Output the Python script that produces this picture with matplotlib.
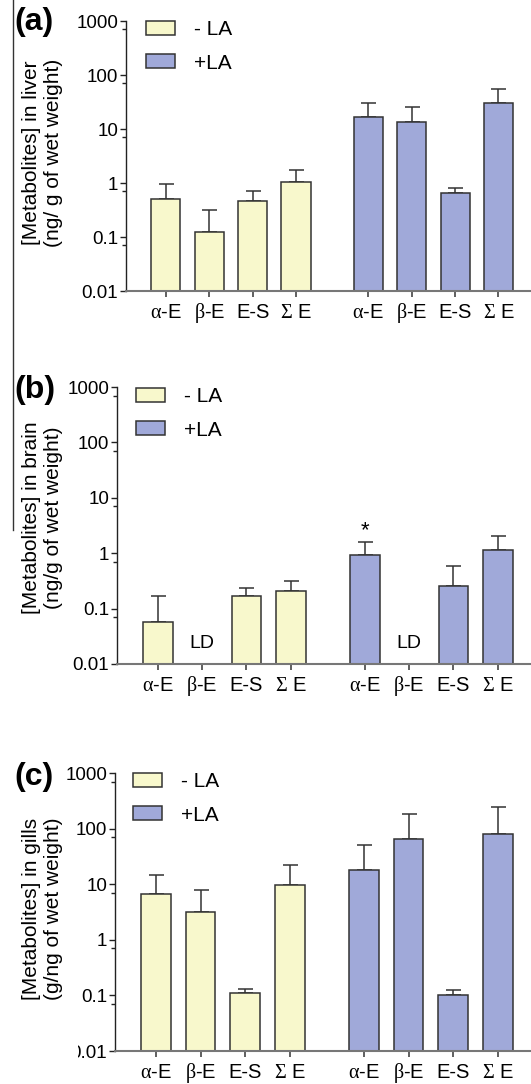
import numpy as np
import matplotlib.pyplot as plt
from matplotlib.lines import Line2D
from matplotlib.patches import Rectangle
from matplotlib.ticker import NullFormatter

plt.rcParams['font.family'] = ['Liberation Sans', 'DejaVu Sans']
plt.rcParams['mathtext.fontset'] = 'custom'
plt.rcParams['mathtext.rm'] = 'Liberation Serif'

W, H = 531, 1084

# data
labels = [r'$\mathrm{\alpha}$-E', r'$\mathrm{\beta}$-E', 'E-S', r'$\mathrm{\Sigma}$ E']

liver_minus = [0.51, 0.123, 0.46, 1.05]
liver_minus_err = [0.43, 0.20, 0.25, 0.72]
liver_plus = [16.7, 13.7, 0.65, 30.7]
liver_plus_err = [13.3, 12.3, 0.16, 25.3]

# beta-E below detection limit (LD) in brain
brain_minus = [0.058, np.nan, 0.166, 0.212]
brain_minus_err = [0.108, 0.0, 0.068, 0.10]
brain_plus = [0.91, np.nan, 0.254, 1.16]
brain_plus_err = [0.67, 0.0, 0.34, 0.89]

gills_minus = [6.57, 3.12, 0.109, 9.68]
gills_minus_err = [7.8, 4.6, 0.023, 12.1]
gills_plus = [17.7, 65.0, 0.100, 81.0]
gills_plus_err = [33.7, 118.0, 0.023, 160.0]

x_minus = np.arange(4)
x_plus = np.arange(4) + 4.67

yellow = '#F8F8CC'
blue = '#A0A9D9'
edge = '#333333'

fig = plt.figure(figsize=(W / 100, H / 100), dpi=100)


def px_axes(left, top, right, bottom):
    return fig.add_axes([left / W, 1 - bottom / H, (right - left) / W, (bottom - top) / H])


def draw_panel(ax, minus, minus_err, plus, plus_err):
    ax.set_yscale('log')
    bars_m = ax.bar(x_minus, minus, width=0.67, color=yellow, edgecolor=edge, linewidth=1.1, zorder=2, label='- LA')
    bars_p = ax.bar(x_plus, plus, width=0.67, color=blue, edgecolor=edge, linewidth=1.1, zorder=2, label='+LA')
    ax.errorbar(x_minus, minus, yerr=[np.zeros(4), minus_err], fmt='none', ecolor=edge,
                elinewidth=1.1, capsize=5.4, capthick=1.1, zorder=1)
    ax.errorbar(x_plus, plus, yerr=[np.zeros(4), plus_err], fmt='none', ecolor=edge,
                elinewidth=1.1, capsize=5.4, capthick=1.1, zorder=1)
    ax.set_ylim(0.01, 1000)
    ax.set_xlim(-0.92, 8.42)
    ax.set_yticks([0.01, 0.1, 1, 10, 100, 1000])
    ax.set_yticklabels(['0.01', '0.1', '1', '10', '100', '1000'])
    ax.set_yticks([0.07, 0.7, 7, 70, 700], minor=True)
    ax.yaxis.set_minor_formatter(NullFormatter())
    ax.set_xticks(list(x_minus) + list(x_plus))
    ax.set_xticklabels(labels * 2)
    ax.tick_params(axis='y', which='major', length=4.5, width=1.0, labelsize=13.5, pad=1, color='#222222')
    ax.tick_params(axis='y', which='minor', length=3, width=1.0, color='#222222')
    ax.tick_params(axis='x', length=4.5, width=1.2, labelsize=14.5, pad=15, color='#444444')
    # align the x labels on their baseline so the Greek letters do not shift them
    for lab in ax.get_xticklabels():
        lab.set_verticalalignment('baseline')
    for s in ['top', 'right']:
        ax.spines[s].set_visible(False)
    ax.spines['left'].set_color('#222222')
    ax.spines['left'].set_linewidth(1.0)
    ax.spines['bottom'].set_color('#777777')
    ax.spines['bottom'].set_linewidth(1.5)
    return bars_m, bars_p


panels = [
    ('(a)', (126, 21, 531, 291), liver_minus, liver_minus_err, liver_plus, liver_plus_err,
     '[Metabolites] in liver\n(ng/ g of wet weight)', 22, 153, (146, 20)),
    ('(b)', (117, 387, 531, 664), brain_minus, brain_minus_err, brain_plus, brain_plus_err,
     '[Metabolites] in brain\n(ng/g of wet weight)', 390, 518, (136, 387)),
    ('(c)', (115, 773, 531, 1051), gills_minus, gills_minus_err, gills_plus, gills_plus_err,
     '[Metabolites] in gills\n(g/ng of wet weight)', 777, 909, (133, 772)),
]

for tag, box, m, me, p, pe, ylab, tag_y, lab_y, leg_xy in panels:
    ax = px_axes(*box)
    bm, bp = draw_panel(ax, m, me, p, pe)
    fig.text(14 / W, 1 - tag_y / H, tag, fontsize=23, fontweight='bold', ha='left', va='center')
    fig.text(43 / W, 1 - lab_y / H, ylab, fontsize=15, rotation=90, ha='center', va='center',
             multialignment='center', linespacing=1.2)
    ax.legend(handles=[bm, bp], loc='upper left', bbox_to_anchor=(leg_xy[0] / W, 1 - leg_xy[1] / H),
              bbox_transform=fig.transFigure, frameon=False, fontsize=15, borderpad=0,
              borderaxespad=0, handlelength=1.4, handleheight=0.67, handletextpad=0.9,
              labelspacing=0.7)
    if tag == '(b)':
        ax.text(x_minus[1], 0.023, 'LD', ha='center', va='center', fontsize=14)
        ax.text(x_plus[1], 0.023, 'LD', ha='center', va='center', fontsize=14)
        ax.text(x_plus[0], 2.5, '*', ha='center', va='center', fontsize=16)

# thin frame line on the left of the top two panels
fig.add_artist(Line2D([13 / W, 13 / W], [1.0, 1 - 530 / H], transform=fig.transFigure,
                      color='#333333', linewidth=1.0))

# the bottom-left corner of the gills panel is cut off in the original
fig.add_artist(Rectangle((0, 1 - 1064 / H), 78 / W, 26 / H, transform=fig.transFigure,
                         facecolor='white', edgecolor='none', zorder=10))

fig.savefig('out.png', dpi=100)
